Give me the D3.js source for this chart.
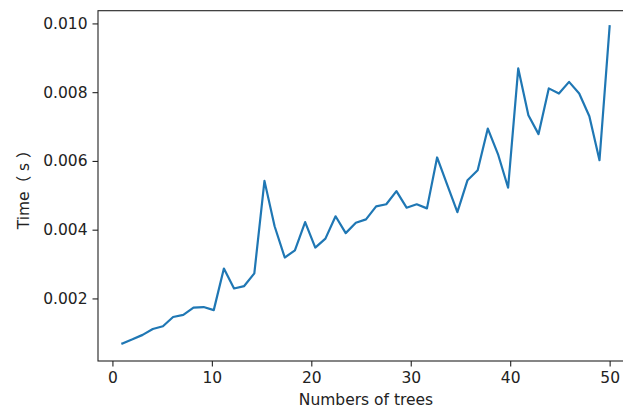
<!DOCTYPE html>
<html>
<head>
<meta charset="utf-8">
<script src="https://cdn.jsdelivr.net/npm/d3@7"></script>
<style>
  html, body { margin: 0; padding: 0; background: #fff; }
  svg { display: block; overflow: hidden; }
  text { font-family: "DejaVu Sans", "Noto Sans CJK SC", sans-serif; fill: #222; }
</style>
</head>
<body>
<svg id="chart" width="623" height="411"></svg>
<script>
// Number of trees (x positions: 49 evenly spread points from 1 to 50)
const trees = [1, 2.02, 3.04, 4.06, 5.08, 6.10, 7.13, 8.15, 9.17, 10.19,
  11.21, 12.23, 13.25, 14.27, 15.29, 16.31, 17.33, 18.35, 19.38, 20.40,
  21.42, 22.44, 23.46, 24.48, 25.50, 26.52, 27.54, 28.56, 29.58, 30.60,
  31.63, 32.65, 33.67, 34.69, 35.71, 36.73, 37.75, 38.77, 39.79, 40.81,
  41.83, 42.85, 43.88, 44.90, 45.92, 46.94, 47.96, 48.98, 50];

// Time in seconds
const times = [0.00069, 0.00081, 0.00094, 0.00111, 0.00119, 0.00146, 0.00152, 0.00173, 0.00175, 0.00166,
  0.00287, 0.00229, 0.00236, 0.00273, 0.00542, 0.00410, 0.00319, 0.00340, 0.00422, 0.00348,
  0.00374, 0.00439, 0.00390, 0.00420, 0.00430, 0.00468, 0.00474, 0.00512, 0.00464, 0.00474,
  0.00462, 0.00610, 0.00530, 0.00451, 0.00544, 0.00573, 0.00694, 0.00620, 0.00522, 0.00869,
  0.00733, 0.00678, 0.00811, 0.00796, 0.00830, 0.00796, 0.00730, 0.00602, 0.00992];

const xTicks = [0, 10, 20, 30, 40, 50];
const yTicks = [0.002, 0.004, 0.006, 0.008, 0.010];
const xDomain = [-1.45, 52.45];
const yDomain = [0.00018, 0.01037];
const xLabel = "Numbers of trees";
const yLabel = "Time（ s ）";

const svg = d3.select("#chart");
const mLeft = 98, mRight = 634, mTop = 10.7, mBottom = 361;
const fs = 15.5, tickLen = 5.5, pad = 5;

const x = d3.scaleLinear().domain(xDomain).range([mLeft, mRight]);
const y = d3.scaleLinear().domain(yDomain).range([mBottom, mTop]);

// line
const line = d3.line().x((d, i) => x(trees[i])).y(d => y(d));
svg.append("path")
  .datum(times)
  .attr("d", line)
  .attr("fill", "none")
  .attr("stroke", "#1f77b4")
  .attr("stroke-width", 2.2)
  .attr("stroke-linejoin", "round")
  .attr("stroke-linecap", "square");

// frame (spines)
svg.append("rect")
  .attr("x", mLeft).attr("y", mTop)
  .attr("width", mRight - mLeft).attr("height", mBottom - mTop)
  .attr("fill", "none").attr("stroke", "#222").attr("stroke-width", 1.1);

// x axis
const xAxis = d3.axisBottom(x).tickValues(xTicks).tickSize(tickLen).tickPadding(pad)
  .tickFormat(d3.format("d"));
const gx = svg.append("g").attr("transform", `translate(0,${mBottom})`).call(xAxis);
gx.select(".domain").remove();
gx.selectAll(".tick line").attr("stroke", "#222").attr("stroke-width", 1.1);
gx.selectAll(".tick text").attr("font-size", fs).attr("font-family", "DejaVu Sans").attr("fill", "#222");

// y axis
const yAxis = d3.axisLeft(y).tickValues(yTicks).tickSize(tickLen).tickPadding(pad)
  .tickFormat(d3.format(".3f"));
const gy = svg.append("g").attr("transform", `translate(${mLeft},0)`).call(yAxis);
gy.select(".domain").remove();
gy.selectAll(".tick line").attr("stroke", "#222").attr("stroke-width", 1.1);
gy.selectAll(".tick text").attr("font-size", fs).attr("font-family", "DejaVu Sans").attr("fill", "#222");

// axis labels
svg.append("text")
  .attr("x", (mLeft + mRight) / 2).attr("y", 405)
  .attr("text-anchor", "middle").attr("font-size", fs)
  .text(xLabel);

svg.append("text")
  .attr("transform", `translate(29,${(mTop + mBottom) / 2}) rotate(-90)`)
  .attr("text-anchor", "middle").attr("font-size", fs)
  .text(yLabel);
</script>
</body>
</html>
